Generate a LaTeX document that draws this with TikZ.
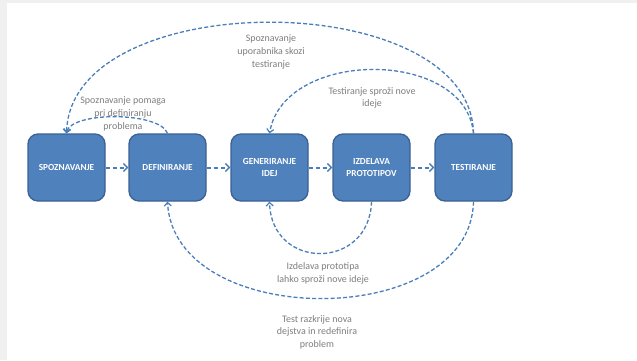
\documentclass[tikz,border=0pt]{standalone}
\usepackage{fontspec}
\setmainfont{Carlito}
\usetikzlibrary{arrows.meta}
\definecolor{boxfill}{HTML}{4F81BD}
\definecolor{boxline}{HTML}{3A6194}
\definecolor{flowc}{HTML}{4A7EBB}
\definecolor{labc}{HTML}{7F7F7F}
\definecolor{framec}{HTML}{F0F0F0}
\begin{document}
\begin{tikzpicture}[x=1bp,y=-1bp,
  stage/.style={draw=boxline, line width=1.3bp, fill=boxfill, rounded corners=10bp,
    minimum width=77bp, minimum height=67bp, inner sep=1bp, text=white, align=center,
    font=\bfseries\fontsize{9.3}{12.7}\selectfont},
  link/.style={draw=flowc, line width=2bp, dash pattern=on 4.5bp off 2.5bp,
    -{Straight Barb[length=4bp,width=8bp,line width=1.4bp]}},
  loop/.style={draw=flowc, line width=1.3bp, dash pattern=on 4bp off 2.2bp,
    -{Straight Barb[length=3.5bp,width=7bp,line width=1.2bp]}},
  lab/.style={text=labc, align=center, inner sep=0pt, font=\fontsize{10}{12.7}\selectfont}]
\fill[framec] (0,0) rectangle (637,360);
\fill[white] (7,3) rectangle (637,360);
\useasboundingbox (0,0) rectangle (637,360);

\node[stage] (s) at (66.5,167.5) {SPOZNAVANJE};
\node[stage] (d) at (167.5,167.5) {DEFINIRANJE};
\node[stage] (g) at (269.5,167.5) {GENERIRANJE\\IDEJ};
\node[stage] (i) at (371.5,167.5) {IZDELAVA\\PROTOTIPOV};
\node[stage] (t) at (473.5,167.5) {TESTIRANJE};

\draw[link] (s.east) -- (d.west);
\draw[link] (d.east) -- (g.west);
\draw[link] (g.east) -- (i.west);
\draw[link] (i.east) -- (t.west);

\draw[loop] (t.north) .. controls +(-3,-148) and +(4,-148) .. (s.north);
\draw[loop] (d.north) .. controls +(-8,-22) and +(4,-22) .. (s.north);
\draw[loop] (t.north) .. controls +(-8,-85) and +(15,-85) .. (g.north);
\draw[loop] (i.south) .. controls +(-2,69) and +(2,69) .. (g.south);
\draw[loop] (t.south) .. controls +(-3,129) and +(7,129) .. (d.south);

\node[lab] (l1) at (271,52) {Spoznavanje\\uporabnika skozi\\testiranje};
\node[lab] (l2) at (123,114) {Spoznavanje pomaga\\pri definiranju\\problema};
\node[lab] (l3) at (372,98) {Testiranje sproži nove\\ideje};
\node[lab] (l4) at (323,273.5) {Izdelava prototipa\\lahko sproži nove ideje};
\node[lab] (l5) at (317,332) {Test razkrije nova\\dejstva in redefinira\\problem};
\end{tikzpicture}
\end{document}
